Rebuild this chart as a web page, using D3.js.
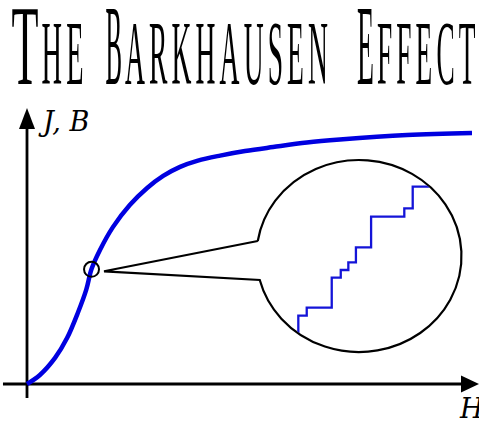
<!DOCTYPE html>
<html>
<head>
<meta charset="utf-8">
<script src="https://cdn.jsdelivr.net/npm/d3@7"></script>
<style>
  html, body { margin: 0; padding: 0; background: #fff; }
  svg { display: block; }
</style>
</head>
<body>
<div id="container"></div>
<script>
/* CONSTANTS AND GLOBALS */
const width = 479,
  height = 421;

// title words (first letter set large, the rest as small caps)
const titleWords = ["The", "Barkhausen", "Effect"];

// axis labels
const yLabel = "J, B";
const xLabel = "H";

// magnetisation curve, B against H (arbitrary units, saturation = 100)
const curveH = [0, 2.9, 6.3, 9.0, 11.5, 13.3, 14.5, 16.4, 19.3, 23.1, 27.0, 30.6, 34.4, 38.4, 43.4, 49.0, 55.3, 62.9, 70.3, 85.4, 100];
const curveB = [0, 3.6, 10.4, 18.3, 28.7, 37.5, 45.8, 53.4, 62.5, 71.3, 78.1, 82.9, 86.5, 89.0, 91.0, 92.8, 94.4, 96.2, 97.4, 99.2, 100];

// the spot on the curve that gets magnified
const zoomSpot = { h: 14.5, b: 45.7 };

// magnified view: the Barkhausen jumps (lens units, 0-100 across the lens)
const stepH = [20.4, 24.5, 36.7, 41.1, 44.8, 48.5, 55.9, 72.1, 76.2, 89.5];
const stepB = [6.3, 18.9, 23.1, 38.7, 42.7, 46.7, 54.5, 70.5, 74.8, 86.1];

// layout
const plot = { left: 27, right: 472, bottom: 384, top: 133 };
const lens = { cx: 359, cy: 256, rx: 102.5, ry: 96 };
// left edge and ink width of each title piece (big letter, small caps)
const titleLayout = [
  [{ x: 11.5, w: 27 }, { x: 41.5, w: 42 }],
  [{ x: 105.5, w: 16.5 }, { x: 125, w: 203 }],
  [{ x: 357, w: 17 }, { x: 377, w: 98.5 }]
];
const blue = "#0000e0";

// CREATE SCALES
const x = d3.scaleLinear().domain([0, 100]).range([plot.left, plot.right]);
const y = d3.scaleLinear().domain([0, 100]).range([plot.bottom, plot.top]);

const lensX = d3.scaleLinear().domain([0, 100]).range([lens.cx - lens.rx, lens.cx + lens.rx]);
const lensY = d3.scaleLinear().domain([0, 100]).range([lens.cy + lens.ry, lens.cy - lens.ry]);

// CREATE SVG
const svg = d3.select("#container")
  .append("svg")
  .attr("width", width)
  .attr("height", height);

// TITLE - a condensed look made by squeezing a serif face sideways
const titlePieces = titleWords.flatMap((word, i) => [
  { text: word[0].toUpperCase(), size: 114, ...titleLayout[i][0] },
  { text: word.slice(1).toUpperCase(), size: 90, ...titleLayout[i][1] }
]);

svg.selectAll(".title-piece")
  .data(titlePieces)
  .join("text")
  .attr("class", "title-piece")
  .attr("x", 0)
  .attr("y", 0)
  .attr("font-family", "'Liberation Serif', serif")
  .attr("font-size", d => d.size)
  .attr("letter-spacing", d => d.text.length > 1 ? d.size * 0.15 : 0)
  .attr("fill", "#000")
  .text(d => d.text)
  .each(function (d) {
    const trailing = d.text.length > 1 ? d.size * 0.15 : 0;
    const natural = this.getComputedTextLength() - trailing;
    d3.select(this).attr("transform", `translate(${d.x},84) scale(${d.w / natural},1)`);
  });

// AXES
const x0 = x(0), y0 = y(0);
const xEnd = 479, yEnd = y(110);

svg.append("line")
  .attr("x1", x(-5.4)).attr("x2", xEnd - 10)
  .attr("y1", y0).attr("y2", y0)
  .attr("stroke", "#000").attr("stroke-width", 2.8);

svg.append("line")
  .attr("x1", x0).attr("x2", x0)
  .attr("y1", y(-5.6)).attr("y2", yEnd + 10)
  .attr("stroke", "#000").attr("stroke-width", 2.8);

// arrow heads
svg.append("path")
  .attr("d", `M${xEnd},${y0} L${xEnd - 18},${y0 - 8.5} L${xEnd - 18},${y0 + 8.5} Z`)
  .attr("fill", "#000");

svg.append("path")
  .attr("d", `M${x0},${yEnd} L${x0 - 8},${yEnd + 21} L${x0 + 8},${yEnd + 21} Z`)
  .attr("fill", "#000");

// axis labels
svg.append("text")
  .attr("x", x0 + 16)
  .attr("y", yEnd + 23)
  .attr("font-family", "'DejaVu Serif', serif")
  .attr("font-style", "italic")
  .attr("font-size", 27)
  .text(yLabel);

svg.append("text")
  .attr("x", 460)
  .attr("y", 418)
  .attr("font-family", "'DejaVu Serif', serif")
  .attr("font-style", "italic")
  .attr("font-size", 27)
  .text(xLabel);

// MAGNETISATION CURVE
const curveData = curveH.map((h, i) => [h, curveB[i]]);

svg.append("path")
  .datum(curveData)
  .attr("d", d3.line()
    .x(d => x(d[0]))
    .y(d => y(d[1]))
    .curve(d3.curveCatmullRom.alpha(0.5)))
  .attr("fill", "none")
  .attr("stroke", blue)
  .attr("stroke-width", 4.5)
  .attr("stroke-linecap", "butt");

// LENS (balloon pointing at the spot)
const spotX = x(zoomSpot.h), spotY = y(zoomSpot.b);
const markerR = 7.5;
const tip = [spotX + markerR + 5, spotY + 2];

const onLens = a => [lens.cx + lens.rx * Math.cos(a), lens.cy + lens.ry * Math.sin(a)];
const aTop = Math.PI + Math.asin(15 / lens.ry),
  aBottom = Math.PI - Math.asin(24 / lens.ry);
const p1 = onLens(aTop), p2 = onLens(aBottom);

svg.append("path")
  .attr("d", `M${p1} L${tip} L${p2} A${lens.rx},${lens.ry} 0 1 0 ${p1}`)
  .attr("fill", "#fff")
  .attr("stroke", "#000")
  .attr("stroke-width", 2.2)
  .attr("stroke-linejoin", "miter");

svg.append("clipPath")
  .attr("id", "lens-clip")
  .append("ellipse")
  .attr("cx", lens.cx).attr("cy", lens.cy)
  .attr("rx", lens.rx - 1).attr("ry", lens.ry - 1);

const stepData = stepH.map((h, i) => [h, stepB[i]]);

svg.append("path")
  .datum(stepData)
  .attr("clip-path", "url(#lens-clip)")
  .attr("d", d3.line()
    .x(d => lensX(d[0]))
    .y(d => lensY(d[1]))
    .curve(d3.curveStepBefore))
  .attr("fill", "none")
  .attr("stroke", "#1414d8")
  .attr("stroke-width", 2.3);

// little circle on the curve
svg.append("circle")
  .attr("cx", spotX)
  .attr("cy", spotY)
  .attr("r", markerR)
  .attr("fill", "none")
  .attr("stroke", "#000")
  .attr("stroke-width", 2);

</script>
</body>
</html>
